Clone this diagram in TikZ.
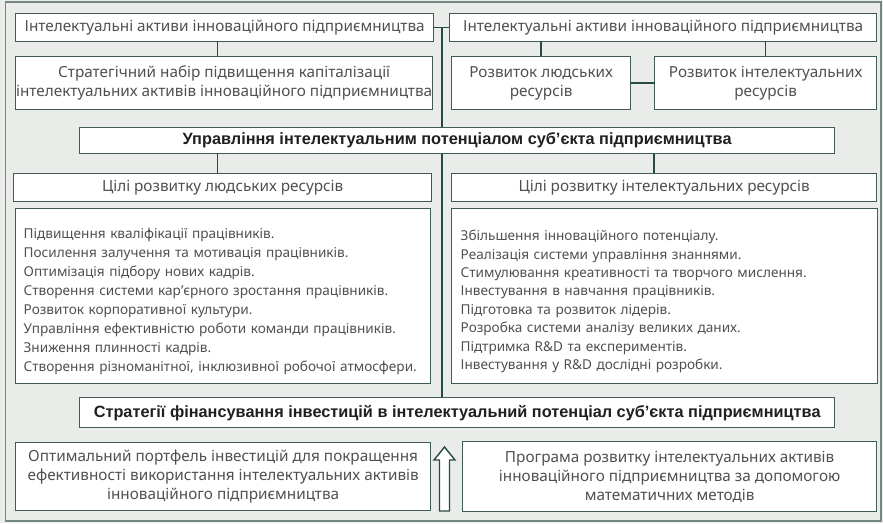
\documentclass[tikz,border=0pt]{standalone}
\usepackage{fontspec}
\setmainfont{Noto Sans}
\newfontfamily\bfam{Liberation Sans}
\usetikzlibrary{calc}
\definecolor{bgc}{HTML}{EAECEA}
\definecolor{boxc}{HTML}{3E5C54}
\definecolor{linec}{HTML}{274A41}
\definecolor{txtc}{HTML}{505050}
\definecolor{framec}{HTML}{71877F}
\begin{document}
\begin{tikzpicture}[x=1pt,y=-1pt,
  box/.style={draw=boxc, fill=white, line width=1.3pt, inner sep=0pt, align=center, text=txtc,
    font=\fontsize{15.3}{19}\selectfont, anchor=north west},
  boldbox/.style={box, font=\bfam\fontsize{16.3}{19}\selectfont\bfseries, text=black!88},
  listbox/.style={box, align=left, inner xsep=8pt, text width=399pt, font=\fontsize{13.6}{19.1}\selectfont},
  conn/.style={draw=linec, line width=1.6pt}]
\useasboundingbox (0,0) rectangle (883,523);
\fill[bgc] (0,0) rectangle (883,523);
\draw[framec, line width=1.5pt] (5.5,2) rectangle (881,521);

\coordinate (tr) at (442,0);

\node[box, minimum width=418pt, minimum height=28pt] (a1) at (15,13) {Інтелектуальні активи інноваційного підприємництва};
\node[box, minimum width=417pt, minimum height=53pt] (a2) at (15,56) {Стратегічний набір підвищення капіталізації\\інтелектуальних активів інноваційного підприємництва};
\node[box, minimum width=427pt, minimum height=28pt] (a3) at (449,13) {Інтелектуальні активи інноваційного підприємництва};
\node[box, minimum width=179pt, minimum height=53pt] (b1) at (451,56) {Розвиток людських\\ресурсів};
\node[box, minimum width=222pt, minimum height=53pt] (b2) at (654,56) {Розвиток інтелектуальних\\ресурсів};
\node[boldbox, minimum width=755pt, minimum height=26pt] (m) at (79,127) {Управління інтелектуальним потенціалом суб’єкта підприємництва};
\node[box, minimum width=418pt, minimum height=28pt] (g1) at (13,173) {Цілі розвитку людських ресурсів};
\node[box, minimum width=425pt, minimum height=28pt] (g2) at (451,173) {Цілі розвитку інтелектуальних ресурсів};
\node[listbox, minimum width=415pt, minimum height=175pt] (l1) at (15,208) {\rule{0pt}{21pt}Підвищення кваліфікації працівників.\\
Посилення залучення та мотивація працівників.\\
Оптимізація підбору нових кадрів.\\
Створення системи кар’єрного зростання працівників.\\
Розвиток корпоративної культури.\\
Управління ефективністю роботи команди працівників.\\
Зниження плинності кадрів.\\
Створення різноманітної, інклюзивної робочої атмосфери.};
\node[listbox, text width=408pt, inner xsep=9pt, minimum width=425pt, minimum height=175pt, font=\fontsize{13.6}{18.4}\selectfont] (l2) at (451,208) {\rule{0pt}{21pt}Збільшення інноваційного потенціалу.\\
Реалізація системи управління знаннями.\\
Стимулювання креативності та творчого мислення.\\
Інвестування в навчання працівників.\\
Підготовка та розвиток лідерів.\\
Розробка системи аналізу великих даних.\\
Підтримка R\&D та експериментів.\\
Інвестування у R\&D дослідні розробки.};
\node[boldbox, minimum width=755pt, minimum height=30pt] (s) at (79,397) {Стратегії фінансування інвестицій в інтелектуальний потенціал суб’єкта підприємництва};
\node[box, minimum width=415pt, minimum height=68pt] (c1) at (15,442) {Оптимальний портфель інвестицій для покращення\\ефективності використання інтелектуальних активів\\інноваційного підприємництва};
\node[box, minimum width=414pt, minimum height=70pt] (c2) at (462,441) {Програма розвитку інтелектуальних активів\\інноваційного підприємництва за допомогою\\математичних методів};

\draw[conn] ([xshift=-7pt]a1.south) -- ([xshift=-7pt]a1.south |- a2.north);
\draw[conn] (a1.east) -- (a3.west);
\draw[conn] (a1.east -| tr) -- (m.north -| tr);
\draw[conn] (m.south -| tr) -- (s.north -| tr);
\draw[conn] (a3.south -| b1.north) -- (b1.north);
\draw[conn] (a3.south -| b2.north) -- (b2.north);
\draw[conn] (b1.east) -- (b2.west);
\draw[conn] ([xshift=-5pt]g1.north |- m.south) -- ([xshift=-5pt]g1.north);
\draw[conn] ([xshift=-10pt]g2.north |- m.south) -- ([xshift=-10pt]g2.north);

\draw[linec, fill=white, line width=1.4pt, line join=miter]
  (439.5,511) -- (439.5,460) -- (434,460) -- (444.5,447) -- (455,460) -- (449.5,460) -- (449.5,511) -- cycle;
\end{tikzpicture}
\end{document}
